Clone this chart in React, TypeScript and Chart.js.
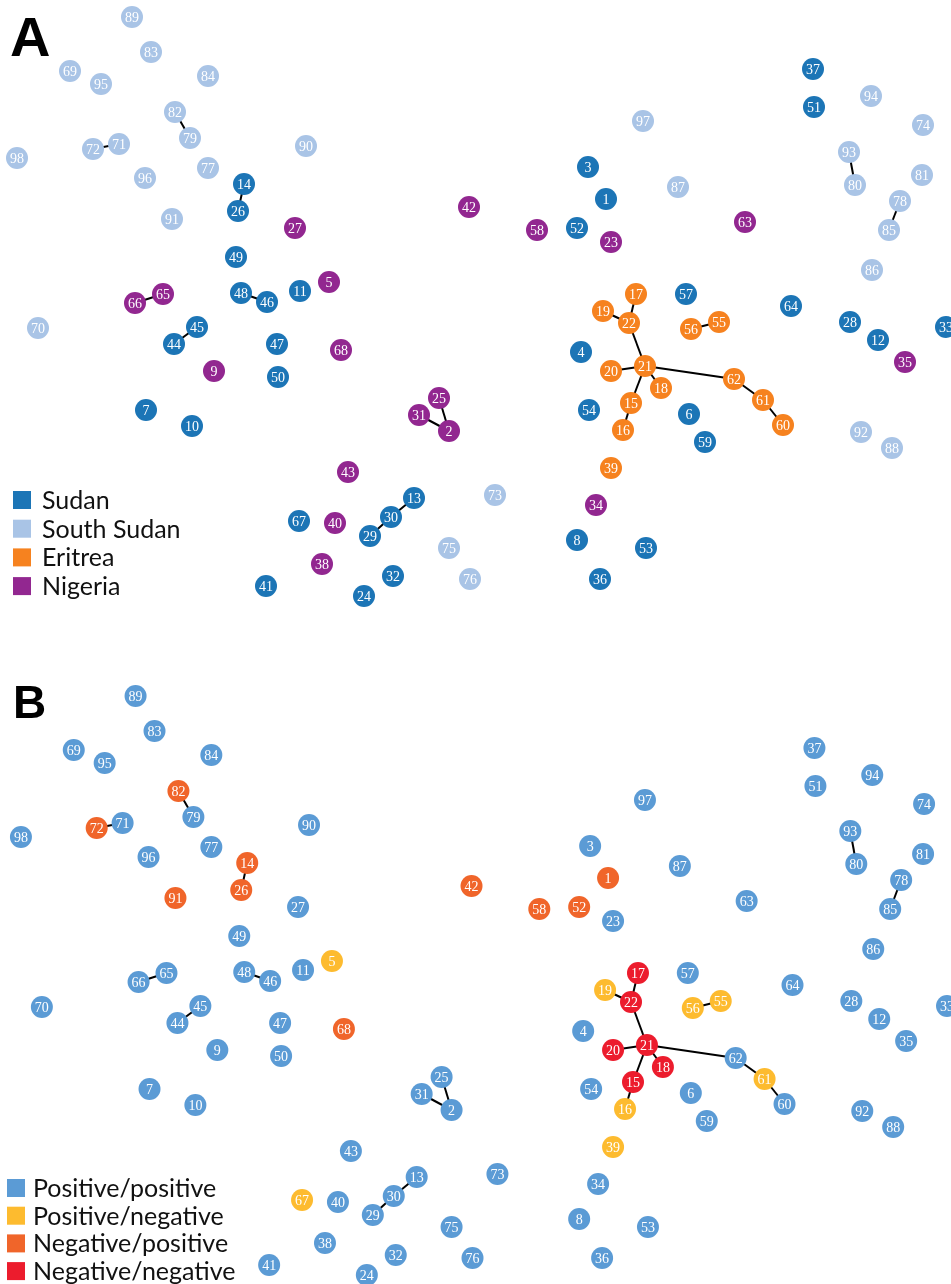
import React, { useEffect, useRef } from "react";
import { Chart, registerables } from "chart.js";

Chart.register(...registerables);

// Node layout coordinates (network layout units), node i+1 at index i
const nodeX = [
  606, 449, 588, 581, 329, 689, 146, 577, 214, 192,
  300, 878, 414, 244, 631, 623, 636, 661, 603, 611,
  645, 629, 611, 364, 439, 238, 295, 850, 370, 391,
  419, 393, 946, 596, 905, 600, 813, 322, 611, 335,
  266, 469, 348, 174, 197, 267, 277, 241, 236, 278,
  814, 577, 646, 589, 719, 691, 686, 537, 705, 783,
  763, 734, 745, 791, 163, 135, 299, 341, 70, 38,
  119, 93, 495, 923, 449, 470, 208, 900, 190, 855,
  922, 175, 151, 208, 889, 872, 678, 892, 132, 306,
  172, 861, 849, 871, 101, 145, 643, 17,
];
const nodeY = [
  199, 431, 167, 352, 282, 414, 410, 540, 371, 426,
  291, 340, 498, 184, 403, 430, 294, 388, 311, 371,
  366, 323, 242, 596, 398, 211, 228, 322, 536, 517,
  415, 576, 327, 505, 362, 579, 69, 564, 468, 523,
  586, 207, 472, 344, 327, 302, 344, 293, 257, 377,
  107, 228, 548, 410, 322, 329, 294, 230, 442, 425,
  400, 379, 222, 306, 294, 303, 521, 350, 71, 328,
  144, 149, 495, 125, 548, 579, 168, 201, 138, 185,
  175, 112, 52, 76, 230, 270, 187, 448, 17, 146,
  219, 432, 152, 96, 84, 178, 121, 158,
];

// Country of origin: 0 Sudan, 1 South Sudan, 2 Eritrea, 3 Nigeria
const countryOfNode = [
  0, 3, 0, 0, 3, 0, 0, 0, 3, 0,
  0, 0, 0, 0, 2, 2, 2, 2, 2, 2,
  2, 2, 3, 0, 3, 0, 3, 0, 0, 0,
  3, 0, 0, 3, 3, 0, 0, 3, 2, 3,
  0, 3, 3, 0, 0, 0, 0, 0, 0, 0,
  0, 0, 0, 0, 2, 2, 0, 3, 0, 2,
  2, 2, 3, 0, 3, 3, 0, 3, 1, 1,
  1, 1, 1, 1, 1, 1, 1, 1, 1, 1,
  1, 1, 1, 1, 1, 1, 1, 1, 1, 1,
  1, 1, 1, 1, 1, 1, 1, 1,
];
const countryLabels = ["Sudan", "South Sudan", "Eritrea", "Nigeria"];
const countryColors = ["#1c75b6", "#a9c4e6", "#f6821f", "#922790"];

// Serology: 0 Positive/positive, 1 Positive/negative, 2 Negative/positive, 3 Negative/negative
const posNegNodes = [5, 16, 19, 39, 55, 56, 61, 67];
const negPosNodes = [1, 14, 26, 42, 52, 58, 68, 72, 82, 91];
const negNegNodes = [15, 17, 18, 20, 21, 22];
const serologyLabels = ["Positive/positive", "Positive/negative", "Negative/positive", "Negative/negative"];
const serologyColors = ["#5b9bd5", "#fdbb2f", "#f0652a", "#ec1c2d"];

const edges: [number, number][] = [
  [14, 26], [82, 79], [72, 71], [66, 65], [48, 46], [45, 44],
  [25, 2], [31, 2], [13, 30], [30, 29], [93, 80], [78, 85], [56, 55],
  [17, 22], [19, 22], [22, 21], [21, 20], [21, 18], [21, 15], [15, 16],
  [21, 62], [62, 61], [61, 60],
];

const serologyOfNode = nodeX.map((_, i) => {
  const id = i + 1;
  if (posNegNodes.includes(id)) return 1;
  if (negPosNodes.includes(id)) return 2;
  if (negNegNodes.includes(id)) return 3;
  return 0;
});

type PanelProps = {
  width: number;
  height: number;
  xMin: number;
  xMax: number;
  yMin: number;
  yMax: number;
  groupOf: number[];
  labels: string[];
  colors: string[];
  letter: string;
  letterFont: string;
  letterX: number;
  letterY: number;
  legendBoxX: number;
  legendTextX: number;
  legendY0: number;
  legendStep: number;
};

function Panel(p: PanelProps) {
  const ref = useRef<HTMLCanvasElement | null>(null);
  useEffect(() => {
    if (!ref.current) return;
    const nodeSets = p.labels.map((lab, g) => ({
      label: lab,
      data: nodeX
        .map((x, i) => ({ x, y: nodeY[i], id: i + 1 }))
        .filter((_, i) => p.groupOf[i] === g),
      backgroundColor: p.colors[g],
      borderWidth: 0,
      pointRadius: 11,
      pointHoverRadius: 11,
      order: 0,
      clip: false as any,
      isNode: true,
    }));
    const edgeSets = edges.map(([a, b]) => ({
      label: "edge",
      data: [
        { x: nodeX[a - 1], y: nodeY[a - 1] },
        { x: nodeX[b - 1], y: nodeY[b - 1] },
      ],
      showLine: true,
      borderColor: "#000",
      borderWidth: 2,
      pointRadius: 0,
      order: 1,
    }));
    const deco = {
      id: "deco",
      afterDatasetsDraw(chart: any) {
        const ctx = chart.ctx as CanvasRenderingContext2D;
        ctx.save();
        ctx.font = '14px "Liberation Serif", "DejaVu Serif", serif';
        ctx.fillStyle = "#ffffff";
        ctx.textAlign = "center";
        ctx.textBaseline = "middle";
        chart.data.datasets.forEach((ds: any, di: number) => {
          if (!ds.isNode) return;
          const meta = chart.getDatasetMeta(di);
          meta.data.forEach((el: any, j: number) => {
            ctx.fillText(String(ds.data[j].id), el.x, el.y + 1);
          });
        });
        // panel letter
        ctx.fillStyle = "#000";
        ctx.textAlign = "left";
        ctx.textBaseline = "alphabetic";
        ctx.font = p.letterFont;
        ctx.fillText(p.letter, p.letterX, p.letterY);
        // legend
        ctx.font = '25px Lato, "Open Sans", sans-serif';
        ctx.textBaseline = "middle";
        p.labels.forEach((lab, g) => {
          const cy = p.legendY0 + g * p.legendStep;
          ctx.fillStyle = p.colors[g];
          ctx.fillRect(p.legendBoxX, cy - 9, 18, 18);
          ctx.fillStyle = "#111";
          ctx.fillText(lab, p.legendTextX, cy + 1);
        });
        ctx.restore();
      },
    };
    const chart = new Chart(ref.current, {
      type: "scatter",
      data: { datasets: [...nodeSets, ...edgeSets] as any },
      options: {
        animation: false,
        responsive: false,
        events: [],
        layout: { padding: 0, autoPadding: false },
        scales: {
          x: { type: "linear", min: p.xMin, max: p.xMax, display: false },
          y: { type: "linear", min: p.yMin, max: p.yMax, reverse: true, display: false },
        },
        plugins: { legend: { display: false }, tooltip: { enabled: false } },
      },
      plugins: [deco],
    });
    return () => chart.destroy();
  }, []);
  return <canvas ref={ref} width={p.width} height={p.height} style={{ display: "block", width: p.width, height: p.height }} />;
}

export default function App() {
  return (
    <div style={{ position: "absolute", left: 0, top: 0, width: 951, height: 1284, background: "#fff", overflow: "hidden" }}>
      <div style={{ position: "absolute", left: 0, top: 0 }}>
        <Panel
          width={951}
          height={640}
          xMin={0}
          xMax={951}
          yMin={0}
          yMax={640}
          groupOf={countryOfNode}
          labels={countryLabels}
          colors={countryColors}
          letter="A"
          letterFont='bold 56px "Liberation Sans", Arial, sans-serif'
          letterX={10}
          letterY={56}
          legendBoxX={13}
          legendTextX={42}
          legendY0={500}
          legendStep={28.7}
        />
      </div>
      <div style={{ position: "absolute", left: 0, top: 640 }}>
        <Panel
          width={951}
          height={644}
          xMin={-4}
          xMax={950}
          yMin={-39}
          yMax={605}
          groupOf={serologyOfNode}
          labels={serologyLabels}
          colors={serologyColors}
          letter="B"
          letterFont='bold 46px "Liberation Sans", Arial, sans-serif'
          letterX={13}
          letterY={78}
          legendBoxX={7}
          legendTextX={33}
          legendY0={548}
          legendStep={27.7}
        />
      </div>
    </div>
  );
}
